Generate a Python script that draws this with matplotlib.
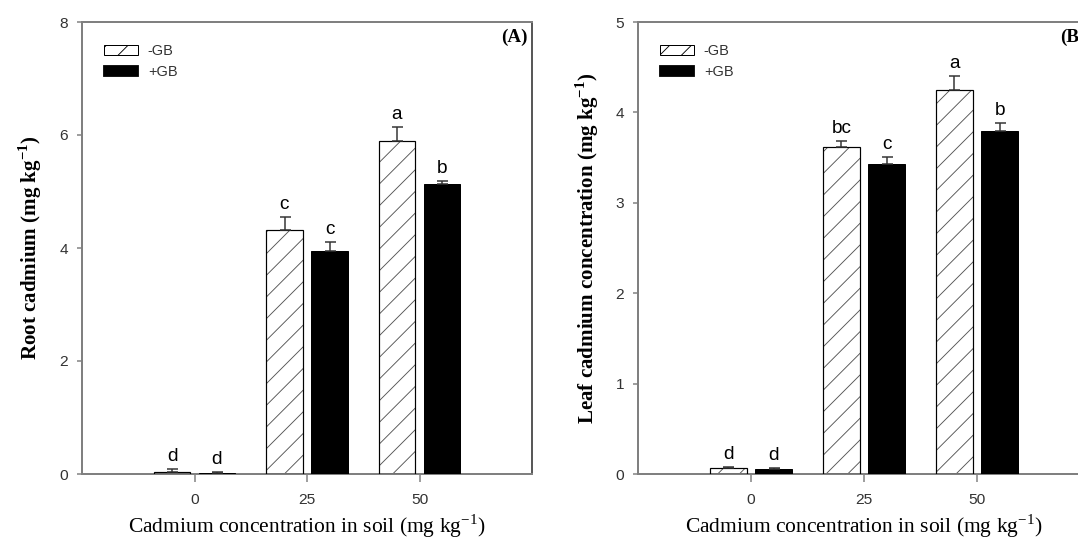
import matplotlib
matplotlib.use("Agg")
import matplotlib.pyplot as plt
import numpy as np
from matplotlib.patches import Patch

# ---------------- data ----------------
categories = ["0", "25", "50"]
cd_levels = [0, 25, 50]
series_names = ["-GB", "+GB"]

root_minus = [0.04, 4.31, 5.89]
root_minus_err = [0.04, 0.23, 0.26]
root_plus = [0.02, 3.95, 5.14]
root_plus_err = [0.01, 0.15, 0.05]
root_letters_minus = ["d", "c", "a"]
root_letters_plus = ["d", "c", "b"]

leaf_minus = [0.07, 3.62, 4.25]
leaf_minus_err = [0.01, 0.065, 0.15]
leaf_plus = [0.05, 3.43, 3.79]
leaf_plus_err = [0.015, 0.08, 0.09]
leaf_letters_minus = ["d", "bc", "a"]
leaf_letters_plus = ["d", "c", "b"]

root_yticks = [0, 2, 4, 6, 8]
leaf_yticks = [0, 1, 2, 3, 4, 5]

# ---------------- style ----------------
DPI = 130
W, H = 1078, 541
plt.rcParams['mathtext.fontset'] = 'custom'
plt.rcParams['mathtext.rm'] = 'Liberation Serif'
plt.rcParams['mathtext.bf'] = 'Liberation Serif:bold'
plt.rcParams['hatch.linewidth'] = 0.5
plt.rcParams['hatch.color'] = '#555555'

def px2pt(p):
    return p * 72.0 / DPI

GRAY = '#808080'
TICKC = '#333333'
SANS = 'Liberation Sans'
SERIF = 'Liberation Serif'

fig = plt.figure(figsize=(W / DPI, H / DPI), dpi=DPI)
fig.patch.set_facecolor('white')

bar_w = 8.2
offset = 5.0


def panel(rect, minus, minus_err, plus, plus_err, lm, lp, yticks, ylabel, tag,
          label_x):
    ax = fig.add_axes(rect)
    x = np.array(cd_levels, dtype=float)
    # hatched bars: fill + hatch, then outline
    ax.bar(x - offset, minus, width=bar_w, color='white', edgecolor='#555555',
           hatch='//', linewidth=0, zorder=2)
    ax.bar(x - offset, minus, width=bar_w, color='none', edgecolor='black',
           linewidth=px2pt(1.2), zorder=3)
    ax.bar(x + offset, plus, width=bar_w, color='black', edgecolor='black',
           linewidth=px2pt(1.0), zorder=3)
    # error bars (upper only)
    ax.errorbar(x - offset, minus, yerr=[np.zeros(3), minus_err], fmt='none',
                ecolor='#333333', elinewidth=px2pt(1.5), capsize=px2pt(5.5),
                capthick=px2pt(1.5), zorder=4)
    ax.errorbar(x + offset, plus, yerr=[np.zeros(3), plus_err], fmt='none',
                ecolor='#333333', elinewidth=px2pt(1.5), capsize=px2pt(5.5),
                capthick=px2pt(1.5), zorder=4)
    # letters
    for xi, v, e, l in zip(x - offset, minus, minus_err, lm):
        ax.annotate(l, (xi, v + e), xytext=(0, px2pt(4)), textcoords='offset points',
                    ha='center', va='bottom', fontsize=px2pt(19), family=SANS,
                    color='black')
    for xi, v, e, l in zip(x + offset, plus, plus_err, lp):
        ax.annotate(l, (xi, v + e), xytext=(0, px2pt(4)), textcoords='offset points',
                    ha='center', va='bottom', fontsize=px2pt(19), family=SANS,
                    color='black')

    ax.set_xlim(-25, 75)
    ax.set_ylim(0, yticks[-1])
    ax.set_xticks(cd_levels)
    ax.set_xticklabels(categories)
    ax.set_yticks(yticks)
    ax.set_yticklabels([str(t) for t in yticks])
    for lab in ax.get_xticklabels() + ax.get_yticklabels():
        lab.set_fontfamily(SANS)
        lab.set_fontsize(px2pt(15.5))
        lab.set_color(TICKC)
    ax.tick_params(axis='x', direction='out', length=px2pt(8), width=px2pt(1.5),
                   color=GRAY, pad=px2pt(11))
    ax.tick_params(axis='y', direction='out', length=px2pt(5), width=px2pt(1.5),
                   color=GRAY, pad=px2pt(9))
    for s in ['left', 'top', 'bottom']:
        ax.spines[s].set_color(GRAY)
        ax.spines[s].set_linewidth(px2pt(2))
    ax.spines['right'].set_color('#222222')
    ax.spines['right'].set_linewidth(px2pt(1.5))

    ax.set_ylabel(ylabel, family=SERIF, fontweight='bold', fontsize=px2pt(21))
    ax.yaxis.set_label_coords(label_x, 0.5)
    ax.set_xlabel(r"Cadmium concentration in soil (mg kg$^{-1}$)", family=SERIF,
                  fontsize=px2pt(21.5))
    ax.xaxis.set_label_coords(0.5, -0.086)

    ax.text(0.99, 0.985, tag, transform=ax.transAxes, ha='right', va='top',
            family=SERIF, fontweight='bold', fontsize=px2pt(19))

    handles = [Patch(facecolor='white', edgecolor='black', hatch='//',
                     linewidth=px2pt(1.0), label=series_names[0]),
               Patch(facecolor='black', edgecolor='black', label=series_names[1])]
    leg = ax.legend(handles=handles, loc='upper left', frameon=False,
                    bbox_to_anchor=(0.019, 0.98), handlelength=2.4,
                    handleheight=0.7, handletextpad=0.65, labelspacing=0.5,
                    prop={'family': SANS, 'size': px2pt(14.5)})
    for t in leg.get_texts():
        t.set_color(TICKC)
    return ax


bottom = 1 - 474 / H
height = (474 - 22) / H
panel([82 / W, bottom, 450 / W, height], root_minus, root_minus_err, root_plus,
      root_plus_err, root_letters_minus, root_letters_plus, root_yticks,
      r"Root cadmium (mg kg$^{\mathbf{-1}}$)", "(A)", -0.085)
panel([638 / W, bottom, 452 / W, height], leaf_minus, leaf_minus_err, leaf_plus,
      leaf_plus_err, leaf_letters_minus, leaf_letters_plus, leaf_yticks,
      r"Leaf cadmium concentration (mg kg$^{\mathbf{-1}}$)", "(B)", -0.082)

fig.savefig("out.png", dpi=DPI, facecolor='white')
